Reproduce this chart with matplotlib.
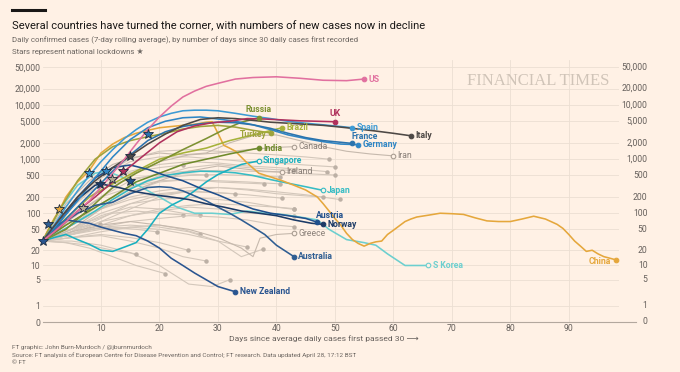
import matplotlib
matplotlib.use('Agg')
import matplotlib.pyplot as plt
from matplotlib.lines import Line2D
import numpy as np

# (day, 7-day average daily cases)
us = [(0,30),(2,45),(4,70),(6,110),(8,170),(10,300),(12,550),(14,1000),(16,1900),(18,3500),(20,6000),(22,9500),
      (24,14000),(26,18000),(28,22000),(30,25000),(33,30000),(36,32000),(40,33000),(44,31000),(48,28500),(52,28000),(55,30000)]
uk = [(0,30),(3,55),(6,110),(9,200),(12,380),(14,600),(17,1100),(20,2000),(23,3200),(26,4100),(29,4700),(32,5000),
      (35,5600),(38,5500),(41,5300),(44,5100),(47,5000),(50,4900)]
spain = [(0,30),(2,60),(4,130),(6,260),(8,500),(10,900),(12,1500),(14,2400),(16,3500),(18,4800),(20,6000),(22,7000),
         (24,7800),(26,8000),(28,8000),(30,7800),(33,7000),(36,6200),(39,5600),(42,5000),(45,4600),(48,4300),(51,4000),(53,3800)]
france = [(0,30),(3,60),(6,130),(9,280),(12,600),(15,1200),(18,2200),(21,3200),(24,4000),(27,4500),(30,4800),(33,4700),
          (36,4300),(39,3700),(42,3000),(45,2500),(48,2200),(51,2050),(53,1950)]
germany = [(0,30),(3,70),(6,170),(9,450),(12,1100),(15,2300),(18,3800),(21,5000),(24,5800),(27,6000),(30,5500),(33,5000),
           (36,4300),(39,3500),(42,2800),(45,2400),(48,2100),(51,1900),(54,1850)]
italy = [(0,30),(3,80),(6,200),(9,400),(12,700),(15,1150),(18,1900),(21,2900),(24,4200),(27,5400),(30,5800),(33,5600),
         (36,5200),(39,4800),(42,4600),(45,4400),(48,4200),(51,3900),(54,3600),(57,3300),(60,3000),(63,2700)]
russia = [(0,30),(4,50),(8,120),(12,300),(16,550),(20,900),(24,1500),(28,2400),(31,3500),(34,4800),(37,5800)]
brazil = [(0,30),(4,80),(8,200),(12,350),(16,600),(20,1000),(24,1300),(28,1600),(32,2200),(36,2800),(41,3800)]
turkey = [(0,30),(3,120),(6,400),(9,1000),(12,1700),(15,2200),(18,2600),(21,3000),(24,3600),(27,4000),(30,4200),
          (33,3900),(36,3400),(39,3050)]
india = [(0,30),(4,60),(8,110),(12,200),(16,380),(20,550),(24,800),(28,1000),(32,1250),(37,1600)]
canada = [(0,30),(5,80),(10,200),(15,500),(20,900),(25,1200),(30,1300),(35,1500),(40,1650),(43,1700)]
iran = [(0,30),(4,150),(8,400),(12,800),(16,1100),(20,1300),(24,1200),(28,1300),(32,2000),(36,2700),(40,2800),
        (44,2200),(48,1700),(52,1400),(56,1250),(60,1150)]
singapore = [(0,30),(2,35),(4,40),(6,32),(8,26),(10,20),(12,19),(14,23),(16,28),(18,50),(20,100),(22,140),(24,180),
             (26,260),(28,380),(30,520),(32,650),(34,800),(37,930)]
ireland = [(0,30),(5,50),(10,120),(15,250),(20,400),(25,600),(30,750),(35,650),(38,600),(41,580)]
japan = [(0,30),(3,45),(6,70),(9,110),(12,180),(15,280),(18,400),(21,500),(24,560),(27,600),(30,590),(33,560),
         (36,500),(39,420),(42,360),(45,310),(48,265)]
austria = [(0,30),(3,80),(6,200),(9,450),(12,700),(15,780),(18,650),(21,500),(24,400),(27,290),(30,220),(33,160),
           (36,120),(39,100),(42,90),(45,80),(47,68)]
norway = [(0,30),(3,70),(6,180),(9,330),(10,350),(13,300),(16,250),(19,220),(22,200),(25,180),(28,150),(31,130),
          (34,110),(37,100),(40,90),(43,75),(46,65),(48,62)]
greece = [(0,30),(5,45),(10,60),(15,70),(20,60),(25,50),(30,35),(34,22),(36,15),(37.2,34),(40,40),(43,42)]
australia = [(0,30),(3,60),(6,100),(9,140),(12,160),(15,230),(18,300),(20,310),(22,300),(24,260),(26,210),(28,170),
             (30,130),(32,100),(34,75),(36,55),(38,40),(40,25),(43,15)]
new_zealand = [(0,30),(2,55),(4,75),(6,70),(8,65),(10,55),(12,48),(14,42),(16,38),(18,30),(20,22),(22,14),(24,10),
               (26,7),(28,5),(30,3.5),(33,2.6)]
s_korea = [(0,30),(3,120),(6,330),(9,550),(11,600),(14,450),(17,300),(20,200),(23,130),(26,100),(29,100),(32,95),
           (35,110),(38,100),(41,95),(44,85),(47,75),(49,50),(52,32),(55,28),(57,25),(59,17),(62,10),(66,10)]
china = [(0,30),(1,50),(2,80),(3,120),(4,200),(5,280),(6,380),(7,480),(8,620),(10,1300),(12,1900),(14,2500),(16,3000),
         (18,3400),(20,3800),(22,4000),(24,4200),(26,4400),(28,4800),(29,4900),(30,3000),(31,1800),(32,1600),(33,1400),
         (35,850),(37,550),(39,470),(41,400),(43,330),(45,270),(47,200),(48,150),(49,110),(50,80),(51,60),(52,42),
         (53,32),(54,27),(55,24),(56,27),(57,29),(58,30),(59,40),(60,48),(61,58),(62,70),(63,78),(64,85),(66,92),
         (68,100),(70,98),(72,95),(74,82),(76,72),(78,70),(80,70),(82,78),(84,88),(86,78),(88,62),(89,52),(90,40),
         (91,30),(92,24),(93,19),(94,20),(95,17),(96,15),(97,14),(98,13)]

# the other countries, drawn in grey
others = [
    [(0,30),(5,150),(10,500),(15,1000),(20,1400),(25,1500),(30,1400),(35,1300),(40,1200),(45,1100),(49,1000)],
    [(0,30),(5,140),(10,450),(15,900),(20,1100),(25,1100),(30,1000),(35,900),(40,850),(45,780),(50,720)],
    [(0,30),(5,100),(10,300),(15,600),(20,800),(25,900),(30,850),(35,750),(40,700),(45,640),(48.6,590)],
    [(0,30),(5,90),(10,200),(15,400),(20,550),(25,600),(30,620),(35,600),(40,580),(45,540),(50,510)],
    [(0,30),(5,70),(10,150),(15,300),(20,450),(25,500),(30,520),(35,500),(40.6,470)],
    [(0,30),(5,60),(10,120),(15,250),(20,380),(25,420),(30,400),(35,380),(40.6,350)],
    [(0,30),(5,80),(10,200),(15,300),(20,400),(25,420),(30,380),(37.8,350)],
    [(0,30),(5,60),(10,120),(15,200),(20,260),(25,300),(30,300),(35,280),(40,250),(45,220),(50.8,180)],
    [(0,30),(5,50),(10,100),(15,150),(20,180),(25,200),(30,180),(35,160),(40,130),(43,118)],
    [(0,30),(5,45),(10,80),(15,150),(20,220),(25,250),(30,240),(35,220),(41,190)],
    [(0,30),(4,40),(8,70),(12,100),(16,110),(20,100),(24,93)],
    [(0,30),(5,50),(10,90),(15,130),(20,120),(24,100),(27,93)],
    [(0,30),(5,60),(10,120),(15,180),(20,230),(25,260),(30,240),(33,230)],
    [(0,30),(5,40),(10,60),(15,90),(20,120),(25,140),(30,150),(35,140),(40,130),(43,122)],
    [(0,30),(5,40),(10,55),(15,70),(20,80),(25,90),(30,85),(35,75),(40,60),(43,56)],
    [(0,30),(5,35),(10,45),(15,55),(20,60),(24,50),(27,40)],
    [(0,30),(5,35),(10,40),(15,35),(20,28),(24.9,20)],
    [(0,30),(5,40),(10,55),(15,60),(20,55),(25,45),(30,30),(34,15),(37.7,21)],
    [(0,30),(5,40),(10,50),(15,55),(20,50),(25,40),(30,30),(35,23)],
    [(0,30),(5,35),(10,38),(15,30),(20,22),(24,15),(28,12.3)],
    [(0,30),(4,28),(8,22),(12,15),(16,10),(21,6.8)],
    [(0,30),(5,30),(10,25),(15,18),(20,10),(25,4),(29,3.5),(32,5)],
    [(0,30),(4,40),(8,50),(12,55),(16,50),(19.5,45)],
    [(0,30),(4,28),(8,25),(12,20),(16,17)],
    [(0,30),(3,45),(6,55),(9.8,64)],
    [(0,30),(4,100),(8,250),(12,450),(16,600),(20,700),(24,780)],
    [(0,30),(4,80),(8,200),(12,350),(16,450),(20,520),(24,540),(28,510)],
    [(0,30),(5,60),(10,150),(15,300),(20,500),(25,700),(30,800),(35,700),(40,640),(43,620)],
    [(0,30),(5,40),(10,70),(15,120),(20,200),(25,260),(30,300),(35,270),(40,230),(45,210),(48,200)],
    [(0,30),(5,45),(10,70),(15,90),(20,110),(25,130),(30,120),(35,100),(40,95),(43,90)],
]

# national lockdowns
star_days = [0, 0.9, 2.8, 7, 8, 9.9, 10.9, 11.9, 13.8, 15, 15, 18]
star_vals = [30, 63, 120, 125, 560, 350, 610, 430, 610, 400, 1150, 2900]
star_cols = ['#2a5590', '#2e5d92', '#e5a73c', '#b9ad98', '#3d9ad4', '#1b3a66', '#2f86c5',
             '#b0a890', '#b0305c', '#1f4f8c', '#4d4845', '#2b73ad']

y_ticks = [0, 1, 5, 10, 20, 50, 100, 200, 500, 1000, 2000, 5000, 10000, 20000, 50000]
x_ticks = [10, 20, 30, 40, 50, 60, 70, 80, 90]

BG = '#fff1e5'
GREY = '#8a8079'
TICK = '#66605c'
plt.rcParams['font.family'] = ['Roboto', 'DejaVu Sans']

# name, series, colour, label position, hollow dot, bold label
highlighted = [
    ('Canada', canada, '#c6b9ad', 'right', True, False),
    ('Iran', iran, '#c6b9ad', 'right', True, False),
    ('Ireland', ireland, '#c6b9ad', 'right', True, False),
    ('Greece', greece, '#c6b9ad', 'right', True, False),
    ('S Korea', s_korea, '#6ccfcf', 'right', True, True),
    ('Japan', japan, '#36bcc4', 'right', True, True),
    ('Singapore', singapore, '#1ab0bf', 'right', True, True),
    ('China', china, '#e5a73c', 'left', False, True),
    ('India', india, '#6f8a2b', 'right', False, True),
    ('Turkey', turkey, '#9ea33c', 'left', False, True),
    ('Brazil', brazil, '#a6b23a', 'right', False, True),
    ('Russia', russia, '#7d9132', 'above', False, True),
    ('New Zealand', new_zealand, '#2a5590', 'right', False, True),
    ('Australia', australia, '#2e5d92', 'right', False, True),
    ('Norway', norway, '#1b3a66', 'right', False, True),
    ('Austria', austria, '#1f4f8c', 'above_right', False, True),
    ('Germany', germany, '#2f86c5', 'right', False, True),
    ('France', france, '#2b73ad', 'above_right', False, True),
    ('Spain', spain, '#3d9ad4', 'right', False, True),
    ('Italy', italy, '#4d4845', 'right', False, True),
    ('UK', uk, '#b0305c', 'above', False, True),
    ('US', us, '#e1709f', 'right', False, True),
]
place = {'right': ((3, 0), 'left', 'center'),
         'left': ((-3, -1), 'right', 'center'),
         'above': ((0, 2.5), 'center', 'bottom'),
         'above_right': ((-1, 1.5), 'left', 'bottom')}


def fwd(v):
    return np.log10(np.maximum(np.asarray(v, dtype=float), 0) + 1)


def inv(t):
    return 10 ** np.asarray(t, dtype=float) - 1


fig = plt.figure(figsize=(6.8, 3.72), dpi=100, facecolor=BG)
ax = fig.add_axes([42.5 / 680, 50 / 372, 576 / 680, 262 / 372])
ax.set_facecolor(BG)
ax.set_yscale('function', functions=(fwd, inv))
ax.set_xlim(0, 98.5)
ax.set_ylim(0, 67300)

for s in ax.spines.values():
    s.set_visible(False)
ax.set_yticks(y_ticks)
ax.set_yticklabels([f'{v:,}' for v in y_ticks])
ax.set_xticks(x_ticks)
ax.set_xticklabels([str(v) for v in x_ticks])
ax.tick_params(length=0, labelsize=6.2, colors=TICK, pad=1.5)
ax.tick_params(axis='x', pad=1.5)
ax.grid(True, color='#ebdfd3', lw=0.6, zorder=0)
ax.axhline(0, xmax=1.03, color='#b3a89e', lw=0.8, clip_on=False, zorder=1)

# right-hand value labels, right-aligned just past the plot
for v in y_ticks:
    ax.text(1 + 29 / 576, v, f'{v:,}', transform=ax.get_yaxis_transform(), ha='right', va='center',
            fontsize=6.2, color=TICK)

for pts in others:
    d = [p[0] for p in pts]
    v = [p[1] for p in pts]
    ax.plot(d, v, color='#d3c7bb', lw=0.8, zorder=2)
    ax.plot(d[-1], v[-1], 'o', ms=2.2, color='#bcb0a5', zorder=2)

for name, pts, col, where, hollow, bold in highlighted:
    d = [p[0] for p in pts]
    v = [p[1] for p in pts]
    grey = not bold
    ax.plot(d, v, color=col, lw=0.8 if grey else 1.15, zorder=2 if grey else 3,
            solid_joinstyle='round', solid_capstyle='round')
    dot_col = '#a99d92' if grey else col
    ax.plot(d[-1], v[-1], 'o', ms=3.3, mfc=BG if hollow else dot_col, mec=dot_col, mew=0.8, zorder=6)
    off, ha, va = place[where]
    ax.annotate(name, (d[-1], v[-1]), xytext=off, textcoords='offset points', ha=ha, va=va,
                fontsize=6.2, color=GREY if grey else col, fontweight='bold' if bold else 'normal', zorder=7)

for d, v, c in zip(star_days, star_vals, star_cols):
    ax.plot(d, v, marker='*', ms=7.5, mfc=c, mec='#1c2b3f', mew=0.6, zorder=5, clip_on=False)

# header
fig.add_artist(Line2D([12 / 680, 45 / 680], [1 - 10 / 372] * 2, lw=2.2, color='#1a1817'))
fig.text(12 / 680, 1 - 26 / 372, 'Several countries have turned the corner, with numbers of new cases now in decline',
         fontsize=8.0, color='#1a1817', va='center')
fig.text(12 / 680, 1 - 40 / 372,
         'Daily confirmed cases (7-day rolling average), by number of days since 30 daily cases first recorded',
         fontsize=5.7, color='#6b6560', va='center')
fig.text(12 / 680, 1 - 52 / 372, 'Stars represent national lockdowns \u2605', fontsize=5.7, color='#6b6560',
         va='center', family=['Roboto', 'DejaVu Sans'])
fig.text(538 / 680, 1 - 81 / 372, 'FINANCIAL TIMES', family='Liberation Serif', fontsize=12,
         color='#d0c4b8', ha='center', va='center')

# x label and footer
fig.text(324 / 680, 1 - 339 / 372, 'Days since average daily cases first passed 30 \u27f6', fontsize=6.1,
         color=TICK, ha='center', va='center', family=['Roboto', 'DejaVu Sans'])
fig.text(12 / 680, 1 - 347 / 372, 'FT graphic: John Burn-Murdoch / @jburnmurdoch', fontsize=4.6, color='#6b6560',
         va='center')
fig.text(12 / 680, 1 - 355 / 372,
         'Source: FT analysis of European Centre for Disease Prevention and Control; FT research. '
         'Data updated April 28, 17:12 BST', fontsize=4.6, color='#6b6560', va='center')
fig.text(12 / 680, 1 - 363 / 372, '\u00a9 FT', fontsize=4.6, color='#6b6560', va='center')

fig.savefig('out.png', dpi=100, facecolor=BG)
